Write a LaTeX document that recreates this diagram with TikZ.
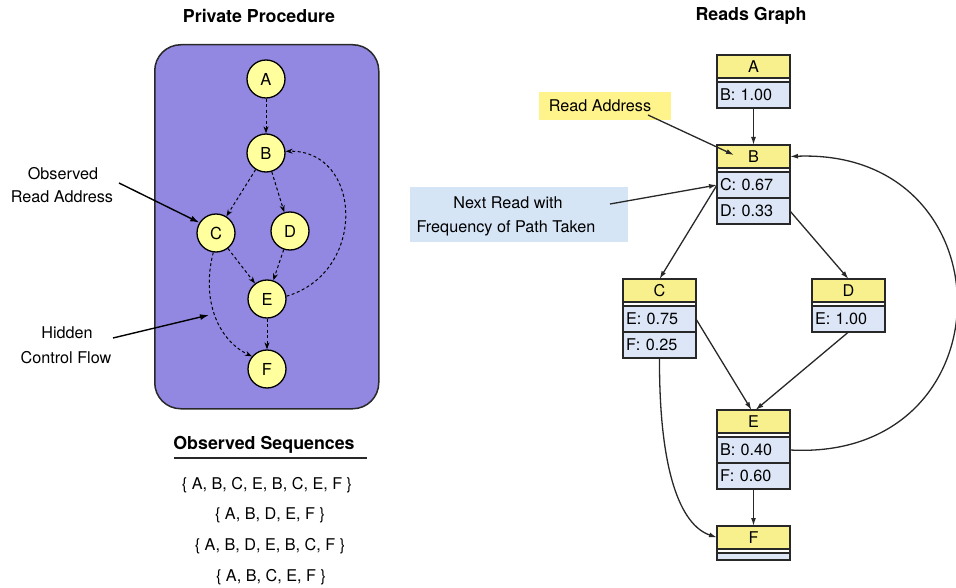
\documentclass[tikz,border=0pt]{standalone}
\usepackage{fontspec}
\setmainfont{TeX Gyre Heros}
\usetikzlibrary{arrows.meta}
\definecolor{purp}{RGB}{146,136,226}
\definecolor{cyell}{RGB}{255,255,158}
\definecolor{hyell}{RGB}{247,240,140}
\definecolor{rblue}{RGB}{220,230,246}
\definecolor{lyell}{RGB}{255,244,140}
\definecolor{lblue}{RGB}{214,229,246}
\definecolor{dk}{RGB}{40,40,40}
\tikzset{
  txt/.style={font=\fontsize{16.2}{19}\selectfont, inner sep=0},
  ttl/.style={font=\fontsize{17.8}{20}\selectfont\bfseries, inner sep=0},
  circ/.style={circle, draw=black, line width=1.3pt, fill=cyell, minimum size=38pt, inner sep=0, font=\fontsize{16.5}{19}\selectfont},
  dedge/.style={draw=black, line width=1pt, dash pattern=on 3pt off 2.5pt, -{Stealth[length=7pt,width=5pt]}},
  sedge/.style={draw=black, line width=1.4pt, -{Latex[length=9pt,width=6pt]}},
  redge/.style={draw=dk, line width=1.3pt, -{Latex[length=8pt,width=5pt]}},
  hdr/.style={rectangle, draw=dk, line width=1.2pt, fill=hyell, minimum width=73pt, minimum height=23pt, anchor=north west, inner sep=0, outer sep=0, font=\fontsize{16.2}{19}\selectfont},
  sepb/.style={rectangle, draw=dk, line width=1.2pt, fill=white, minimum width=73pt, minimum height=4pt, anchor=north west, inner sep=0, outer sep=0},
  rowb/.style={rectangle, draw=dk, line width=1.2pt, fill=rblue, minimum width=73pt, minimum height=26pt, anchor=north west, inner xsep=3pt, inner ysep=0, outer sep=0, text width=67pt, align=left, font=\fontsize{16.2}{19}\selectfont},
}
\begin{document}
\begin{tikzpicture}[x=1pt,y=-1pt]
\useasboundingbox (0,0) rectangle (956,588);

% ---------- Left panel ----------
\node[ttl] (t1) at (259,16) {Private Procedure};
\node[draw=dk, line width=1.5pt, fill=purp, rounded corners=26pt, minimum width=224pt, minimum height=364pt, anchor=north west, inner sep=0] (pbox) at (154,44) {};

\node[circ] (pA) at (266,79) {A};
\node[circ] (pB) at (266,153) {B};
\node[circ] (pC) at (216,233) {C};
\node[circ] (pD) at (290,231) {D};
\node[circ] (pE) at (267,299) {E};
\node[circ] (pF) at (267,369) {F};

\draw[dedge] (pA) -- (pB);
\draw[dedge] (pB) -- (pC);
\draw[dedge] (pB) -- (pD);
\draw[dedge] (pC) -- (pE);
\draw[dedge] (pD) -- (pE);
\draw[dedge] (pE) -- (pF);
\draw[dedge] (pC.262) .. controls (201,300) and (218,340) .. (pF.140);
\draw[dedge] (pE.8) .. controls (368,272) and (362,150) .. (pB.5);

\node[txt] (obs1) at (63,174) {Observed};
\node[txt] (obs2) at (62,197) {Read Address};
\coordinate (obsS) at (119,183);
\draw[sedge] (obsS) -- (pC.148);

\node[txt] (hid1) at (67,333) {Hidden};
\node[txt] (hid2) at (66,358) {Control Flow};
\coordinate (hidS) at (113,338);
\coordinate (hidE) at (209,315);
\draw[sedge] (hidS) -- (hidE);

\node[ttl] (t2) at (264,445) {Observed Sequences};
\coordinate (ulL) at (174,458);
\coordinate (ulR) at (367,458);
\draw[line width=1.6pt, draw=dk] (ulL) -- (ulR);
\node[txt] (s1) at (267,485) {\{ A, B, C, E, B, C, E, F \}};
\node[txt] (s2) at (270,515) {\{ A, B, D, E, F \}};
\node[txt] (s3) at (270,546) {\{ A, B, D, E, B, C, F \}};
\node[txt] (s4) at (271,577) {\{ A, B, C, E, F \}};

% ---------- Right panel ----------
\node[ttl] (t3) at (751,16) {Reads Graph};

% A
\node[hdr] (AH) at (717,55) {A};
\node[sepb] (AS) at (717,78) {};
\node[rowb] (A1) at (717,82) {B: 1.00};
% B
\node[hdr] (BH) at (717,145) {B};
\node[sepb] (BS) at (717,168) {};
\node[rowb] (B1) at (717,172) {C: 0.67};
\node[rowb] (B2) at (717,198) {D: 0.33};
% C
\node[hdr] (CH) at (623,279) {C};
\node[sepb] (CS) at (623,302) {};
\node[rowb] (C1) at (623,306) {E: 0.75};
\node[rowb] (C2) at (623,332) {F: 0.25};
% D
\node[hdr] (DH) at (812,279) {D};
\node[sepb] (DS) at (812,302) {};
\node[rowb] (D1) at (812,306) {E: 1.00};
% E
\node[hdr] (EH) at (717,410) {E};
\node[sepb] (ES) at (717,433) {};
\node[rowb] (E1) at (717,437) {B: 0.40};
\node[rowb] (E2) at (717,463) {F: 0.60};
% F
\node[hdr] (FH) at (717,526) {F};
\node[sepb] (FS) at (717,549) {};
\node[rowb, minimum height=7pt] (F1) at (717,553) {};

\draw[redge] (A1.south) -- (BH.north);
\draw[redge] (B1.west) -- (CH.north);
\draw[redge] (B2.east) -- (DH.north);
\draw[redge] (C1.east) -- ([xshift=-2pt]EH.north);
\draw[redge] (D1.south) -- ([xshift=2pt]EH.north);
\draw[redge] (C2.south) .. controls (659,470) and (680,525) .. (FH.west);
\draw[redge] (E1.east) .. controls (1012,462) and (1012,148) .. (BH.east);
\draw[redge] (E2.south) -- (FH.north);

% annotations
\node[fill=lyell, minimum width=132pt, minimum height=28pt, anchor=north west, inner sep=0] (rabox) at (539,92) {};
\node[txt] (ratext) at (600,106) {Read Address};
\coordinate (raS) at (648,115);
\coordinate (raE) at (734,155);
\draw[redge] (raS) -- (raE);

\node[fill=lblue, minimum width=218pt, minimum height=55pt, anchor=north west, inner sep=0] (nrbox) at (410,187) {};
\node[txt] (nr1) at (508,203) {Next Read with};
\node[txt] (nr2) at (506,228) {Frequency of Path Taken};
\coordinate (nrS) at (610,204);
\draw[redge] (nrS) -- (B1.west);
\end{tikzpicture}
\end{document}
